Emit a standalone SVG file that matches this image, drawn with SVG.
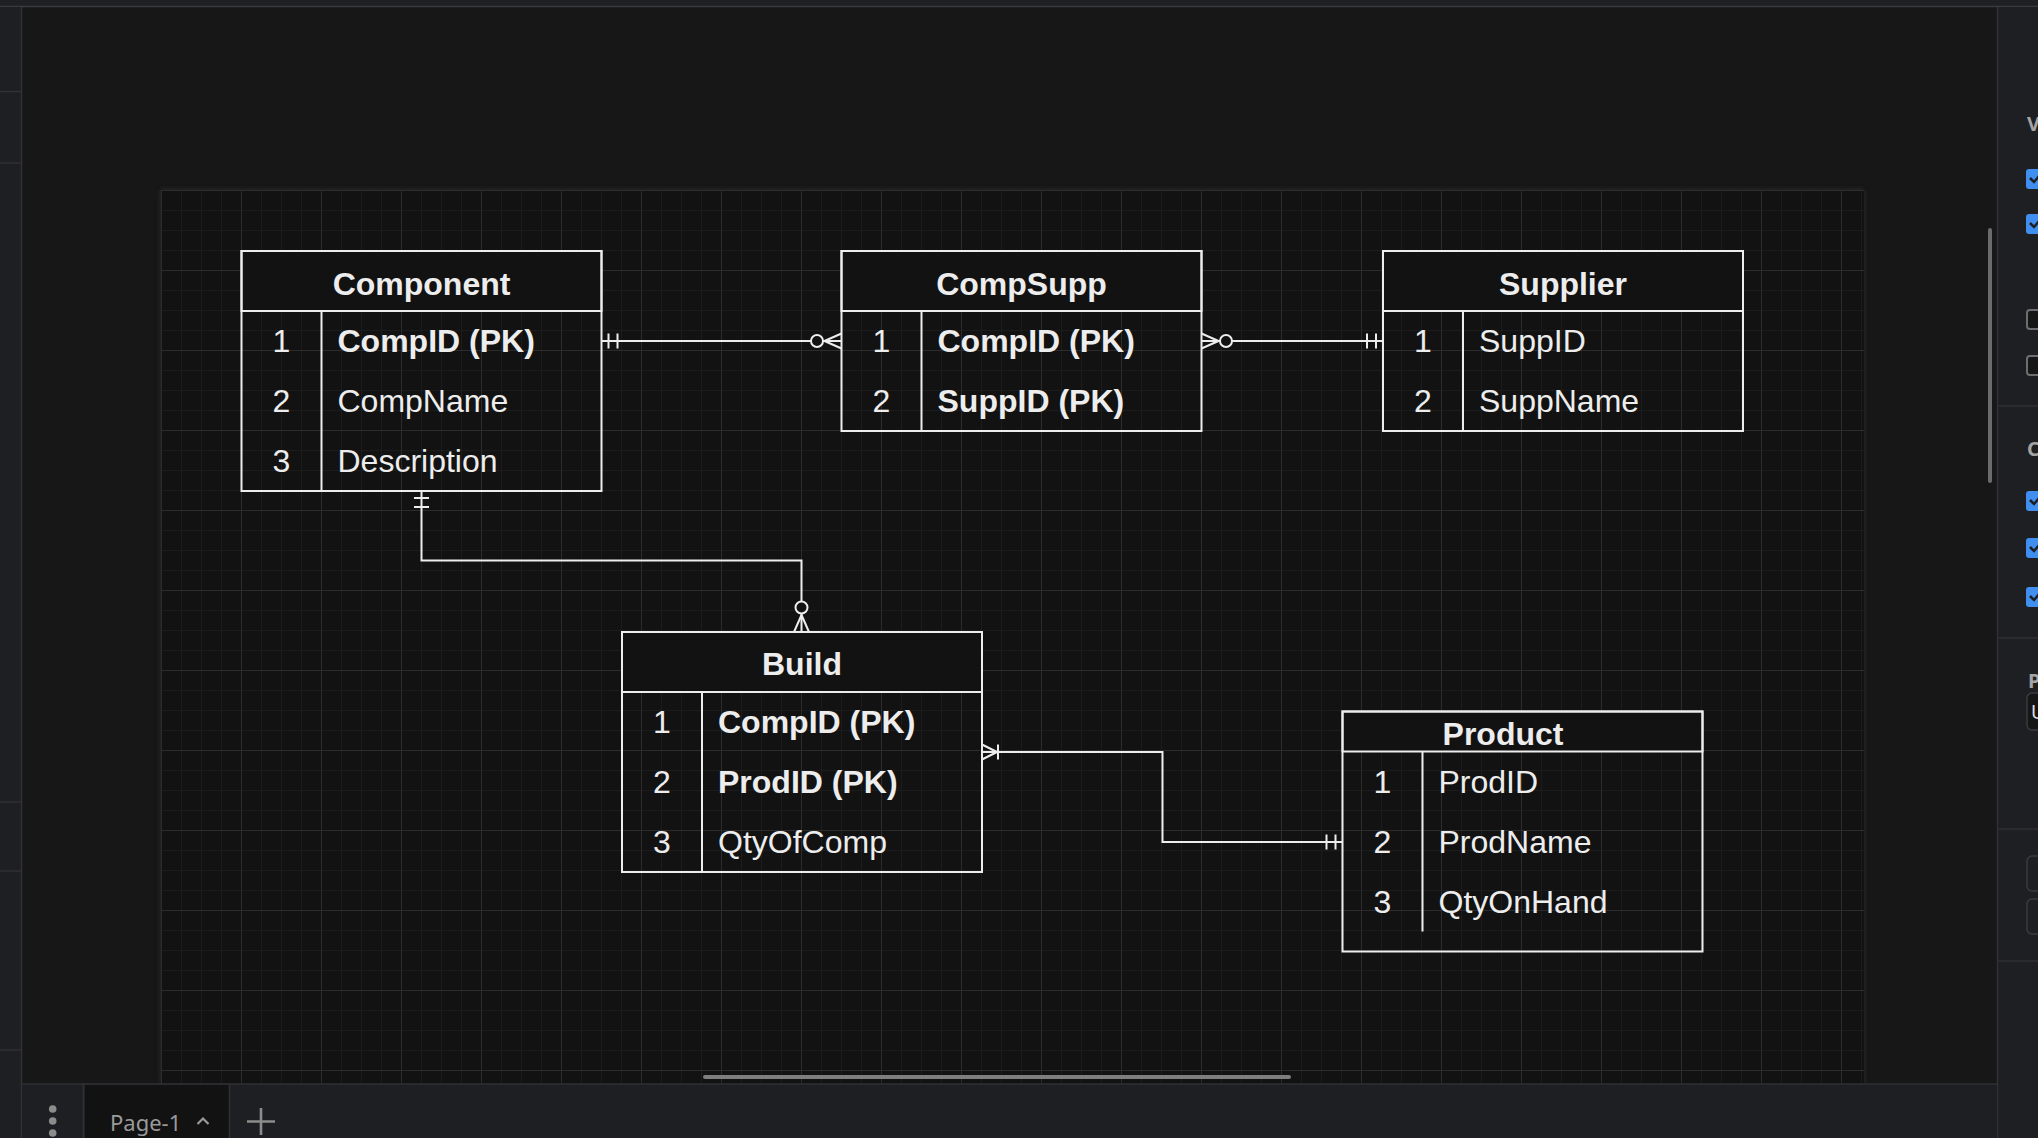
<svg xmlns="http://www.w3.org/2000/svg" width="2038" height="1138" viewBox="0 0 2038 1138">
  <style>
    .box { fill: none; stroke: #ededed; stroke-width: 2; }
    .hdr { fill: #121212; stroke: #ededed; stroke-width: 2; }
    .div { stroke: #ededed; stroke-width: 2; fill: none; }
    .title { font-family: "Liberation Sans", Arial, sans-serif; font-size: 32px; font-weight: bold; fill: #ededed; text-anchor: middle; }
    .num { font-family: "Liberation Sans", Arial, sans-serif; font-size: 32px; fill: #ededed; text-anchor: middle; }
    .fld { font-family: "Liberation Sans", Arial, sans-serif; font-size: 32px; fill: #ededed; }
    .pk { font-weight: bold; }
    .edge { fill: none; stroke: #ededed; stroke-width: 2; }
    .ui { font-family: "Noto Sans", "Liberation Sans", sans-serif; }
  </style>
  <defs>
    <pattern id="grid" x="161" y="190" width="80" height="80" patternUnits="userSpaceOnUse">
      <g stroke="#1c1c1c" stroke-width="1">
        <line x1="20.5" y1="0" x2="20.5" y2="80"/>
        <line x1="40.5" y1="0" x2="40.5" y2="80"/>
        <line x1="60.5" y1="0" x2="60.5" y2="80"/>
        <line x1="0" y1="20.5" x2="80" y2="20.5"/>
        <line x1="0" y1="40.5" x2="80" y2="40.5"/>
        <line x1="0" y1="60.5" x2="80" y2="60.5"/>
      </g>
      <g stroke="#2c2c2c" stroke-width="1">
        <line x1="0.5" y1="0" x2="0.5" y2="80"/>
        <line x1="0" y1="0.5" x2="80" y2="0.5"/>
      </g>
    </pattern>
    <filter id="shadow" x="-5%" y="-5%" width="110%" height="110%">
      <feGaussianBlur stdDeviation="3"/>
    </filter>
    <marker id="mandOne" viewBox="-30 -12 32 24" refX="0" refY="0" markerWidth="32" markerHeight="24" markerUnits="userSpaceOnUse" orient="auto-start-reverse" overflow="visible">
      <path d="M-7,-7.5 V7.5 M-16,-7.5 V7.5" fill="none" stroke="#ededed" stroke-width="2"/>
    </marker>
    <marker id="zeroMany" viewBox="-32 -12 34 24" refX="0" refY="0" markerWidth="34" markerHeight="24" markerUnits="userSpaceOnUse" orient="auto-start-reverse" overflow="visible">
      <path d="M-17,0 L0,-7.5 M-17,0 L0,7.5" fill="none" stroke="#ededed" stroke-width="2"/>
      <circle cx="-24.5" cy="0" r="6" fill="#121212" stroke="#ededed" stroke-width="2"/>
    </marker>
    <marker id="oneMany" viewBox="-30 -12 32 24" refX="0" refY="0" markerWidth="32" markerHeight="24" markerUnits="userSpaceOnUse" orient="auto-start-reverse" overflow="visible">
      <path d="M-15,0 L0,-7.5 M-15,0 L0,7.5 M-16,-7.5 V7.5" fill="none" stroke="#ededed" stroke-width="2"/>
    </marker>
  </defs>

  <!-- app chrome -->
  <rect x="0" y="0" width="2038" height="1138" fill="#171717"/>
  <rect x="0" y="0" width="2038" height="6" fill="#1f2023"/>
  <line x1="0" y1="6.5" x2="2038" y2="6.5" stroke="#3a3b3e" stroke-width="1.5"/>
  <rect x="0" y="7" width="21" height="1131" fill="#1e1f22"/>
  <line x1="21.5" y1="7" x2="21.5" y2="1138" stroke="#303134" stroke-width="1.5"/>
  <g stroke="#303134" stroke-width="1.5">
    <line x1="0" y1="91.5" x2="21" y2="91.5"/>
    <line x1="0" y1="163" x2="21" y2="163"/>
    <line x1="0" y1="802" x2="21" y2="802"/>
    <line x1="0" y1="871" x2="21" y2="871"/>
    <line x1="0" y1="1050" x2="21" y2="1050"/>
  </g>

  <!-- page -->
  <rect x="161" y="190" width="1703" height="894" fill="#2a2a2a" filter="url(#shadow)"/>
  <rect x="161" y="190" width="1703" height="894" fill="#121212"/>
  <rect x="161" y="190" width="1703" height="894" fill="url(#grid)"/>

  <!-- vertical scrollbar -->
  <rect x="1988" y="228" width="4" height="255" rx="2" fill="#6b6b6b"/>

  <!-- right panel -->
  <rect x="1997" y="7" width="41" height="1131" fill="#1e1f22"/>
  <line x1="1997.5" y1="7" x2="1997.5" y2="1138" stroke="#303134" stroke-width="1.5"/>
  <g stroke="#303134" stroke-width="1.5">
    <line x1="1997" y1="406" x2="2038" y2="406"/>
    <line x1="1997" y1="638" x2="2038" y2="638"/>
    <line x1="1997" y1="829" x2="2038" y2="829"/>
    <line x1="1997" y1="961" x2="2038" y2="961"/>
  </g>
  <g class="ui" font-size="20" font-weight="bold" fill="#a4a4a4">
    <text x="2027" y="131">V</text>
    <text x="2027" y="456">C</text>
    <text x="2028" y="688">P</text>
  </g>
  <g fill="#3f8ef0">
    <rect x="2026" y="169" width="20" height="20" rx="3"/>
    <rect x="2026" y="214" width="20" height="20" rx="3"/>
    <rect x="2026" y="491" width="20" height="20" rx="3"/>
    <rect x="2026" y="538" width="20" height="20" rx="3"/>
    <rect x="2026" y="587" width="20" height="20" rx="3"/>
  </g>
  <g fill="none" stroke="#1e1f22" stroke-width="2.5">
    <path d="M2030,178 l4,4 l6,-7"/>
    <path d="M2030,223 l4,4 l6,-7"/>
    <path d="M2030,500 l4,4 l6,-7"/>
    <path d="M2030,547 l4,4 l6,-7"/>
    <path d="M2030,596 l4,4 l6,-7"/>
  </g>
  <g fill="#161616" stroke="#6e6e72" stroke-width="2">
    <rect x="2027" y="310" width="18" height="19" rx="3"/>
    <rect x="2027" y="356" width="18" height="19" rx="3"/>
  </g>
  <rect x="2027" y="693" width="30" height="37" rx="5" fill="#161616" stroke="#3a3b3e" stroke-width="1.5"/>
  <text class="ui" x="2031" y="719" font-size="19" fill="#e0e0e0">U</text>
  <rect x="2027" y="856" width="30" height="35" rx="5" fill="none" stroke="#3a3b3e" stroke-width="1.5"/>
  <rect x="2027" y="899" width="30" height="35" rx="5" fill="none" stroke="#3a3b3e" stroke-width="1.5"/>

  <!-- bottom bar -->
  <rect x="22" y="1084" width="1975" height="54" fill="#1e1f22"/>
  <line x1="22" y1="1084" x2="1997" y2="1084" stroke="#303134" stroke-width="1.5"/>
  <rect x="703" y="1075" width="588" height="4" rx="2" fill="#7e7e7e"/>
  <line x1="83.5" y1="1084" x2="83.5" y2="1138" stroke="#303134" stroke-width="1.5"/>
  <rect x="85" y="1085" width="144" height="53" fill="#121212"/>
  <line x1="229.5" y1="1084" x2="229.5" y2="1138" stroke="#303134" stroke-width="1.5"/>
  <g fill="#8c8c8c">
    <circle cx="52.7" cy="1109" r="3.8"/>
    <circle cx="52.7" cy="1121" r="3.8"/>
    <circle cx="52.7" cy="1133" r="3.8"/>
  </g>
  <text class="ui" x="110" y="1131" font-size="22" fill="#9a9a9a">Page-1</text>
  <path d="M197.5,1124 l5.5,-5.5 l5.5,5.5" fill="none" stroke="#9a9a9a" stroke-width="2.2"/>
  <path d="M247,1121.5 H275 M261,1108 V1135" fill="none" stroke="#8c8c8c" stroke-width="2.6"/>

  <!-- connectors -->
  <g id="connectors">
    <path id="c-comp-compsupp" class="edge" d="M601.5,341 H841.5" marker-start="url(#mandOne)" marker-end="url(#zeroMany)"/>
    <path id="c-compsupp-supplier" class="edge" d="M1201.5,341 H1383" marker-start="url(#zeroMany)" marker-end="url(#mandOne)"/>
    <path id="c-comp-build" class="edge" d="M421.5,491 V560.5 H801.5 V632" marker-start="url(#mandOne)" marker-end="url(#zeroMany)"/>
    <path id="c-build-product" class="edge" d="M982,752 H1162.5 V842 H1342.5" marker-start="url(#oneMany)" marker-end="url(#mandOne)"/>
  </g>

  <!-- Component -->
  <g id="component">
    <rect class="hdr" x="241.5" y="251" width="360" height="60"/>
    <rect class="box" x="241.5" y="251" width="360" height="240"/>
    <line class="div" x1="321.5" y1="311" x2="321.5" y2="491"/>
    <text class="title" x="421.5" y="294.5">Component</text>
    <text class="num" x="281.5" y="352">1</text>
    <text class="num" x="281.5" y="412">2</text>
    <text class="num" x="281.5" y="472">3</text>
    <text class="fld pk" x="337.5" y="352">CompID (PK)</text>
    <text class="fld" x="337.5" y="412">CompName</text>
    <text class="fld" x="337.5" y="472">Description</text>
  </g>

  <!-- CompSupp -->
  <g id="compsupp">
    <rect class="hdr" x="841.5" y="251" width="360" height="60"/>
    <rect class="box" x="841.5" y="251" width="360" height="180"/>
    <line class="div" x1="921.5" y1="311" x2="921.5" y2="431"/>
    <text class="title" x="1021.5" y="294.5">CompSupp</text>
    <text class="num" x="881.5" y="352">1</text>
    <text class="num" x="881.5" y="412">2</text>
    <text class="fld pk" x="937.5" y="352">CompID (PK)</text>
    <text class="fld pk" x="937.5" y="412">SuppID (PK)</text>
  </g>

  <!-- Supplier -->
  <g id="supplier">
    <rect class="hdr" x="1383" y="251" width="360" height="60"/>
    <rect class="box" x="1383" y="251" width="360" height="180"/>
    <line class="div" x1="1463" y1="311" x2="1463" y2="431"/>
    <text class="title" x="1563" y="294.5">Supplier</text>
    <text class="num" x="1423" y="352">1</text>
    <text class="num" x="1423" y="412">2</text>
    <text class="fld" x="1479" y="352">SuppID</text>
    <text class="fld" x="1479" y="412">SuppName</text>
  </g>

  <!-- Build -->
  <g id="build">
    <rect class="hdr" x="622" y="632" width="360" height="60"/>
    <rect class="box" x="622" y="632" width="360" height="240"/>
    <line class="div" x1="702" y1="692" x2="702" y2="872"/>
    <text class="title" x="802" y="675">Build</text>
    <text class="num" x="662" y="733">1</text>
    <text class="num" x="662" y="793">2</text>
    <text class="num" x="662" y="853">3</text>
    <text class="fld pk" x="718" y="733">CompID (PK)</text>
    <text class="fld pk" x="718" y="793">ProdID (PK)</text>
    <text class="fld" x="718" y="853">QtyOfComp</text>
  </g>

  <!-- Product -->
  <g id="product">
    <rect class="hdr" x="1342.5" y="711.5" width="360" height="40"/>
    <rect class="box" x="1342.5" y="711.5" width="360" height="240"/>
    <line class="div" x1="1422.5" y1="751.5" x2="1422.5" y2="931.5"/>
    <text class="title" x="1503" y="744.5">Product</text>
    <text class="num" x="1382.5" y="792.5">1</text>
    <text class="num" x="1382.5" y="852.5">2</text>
    <text class="num" x="1382.5" y="912.5">3</text>
    <text class="fld" x="1438.5" y="792.5">ProdID</text>
    <text class="fld" x="1438.5" y="852.5">ProdName</text>
    <text class="fld" x="1438.5" y="912.5">QtyOnHand</text>
  </g>
</svg>
